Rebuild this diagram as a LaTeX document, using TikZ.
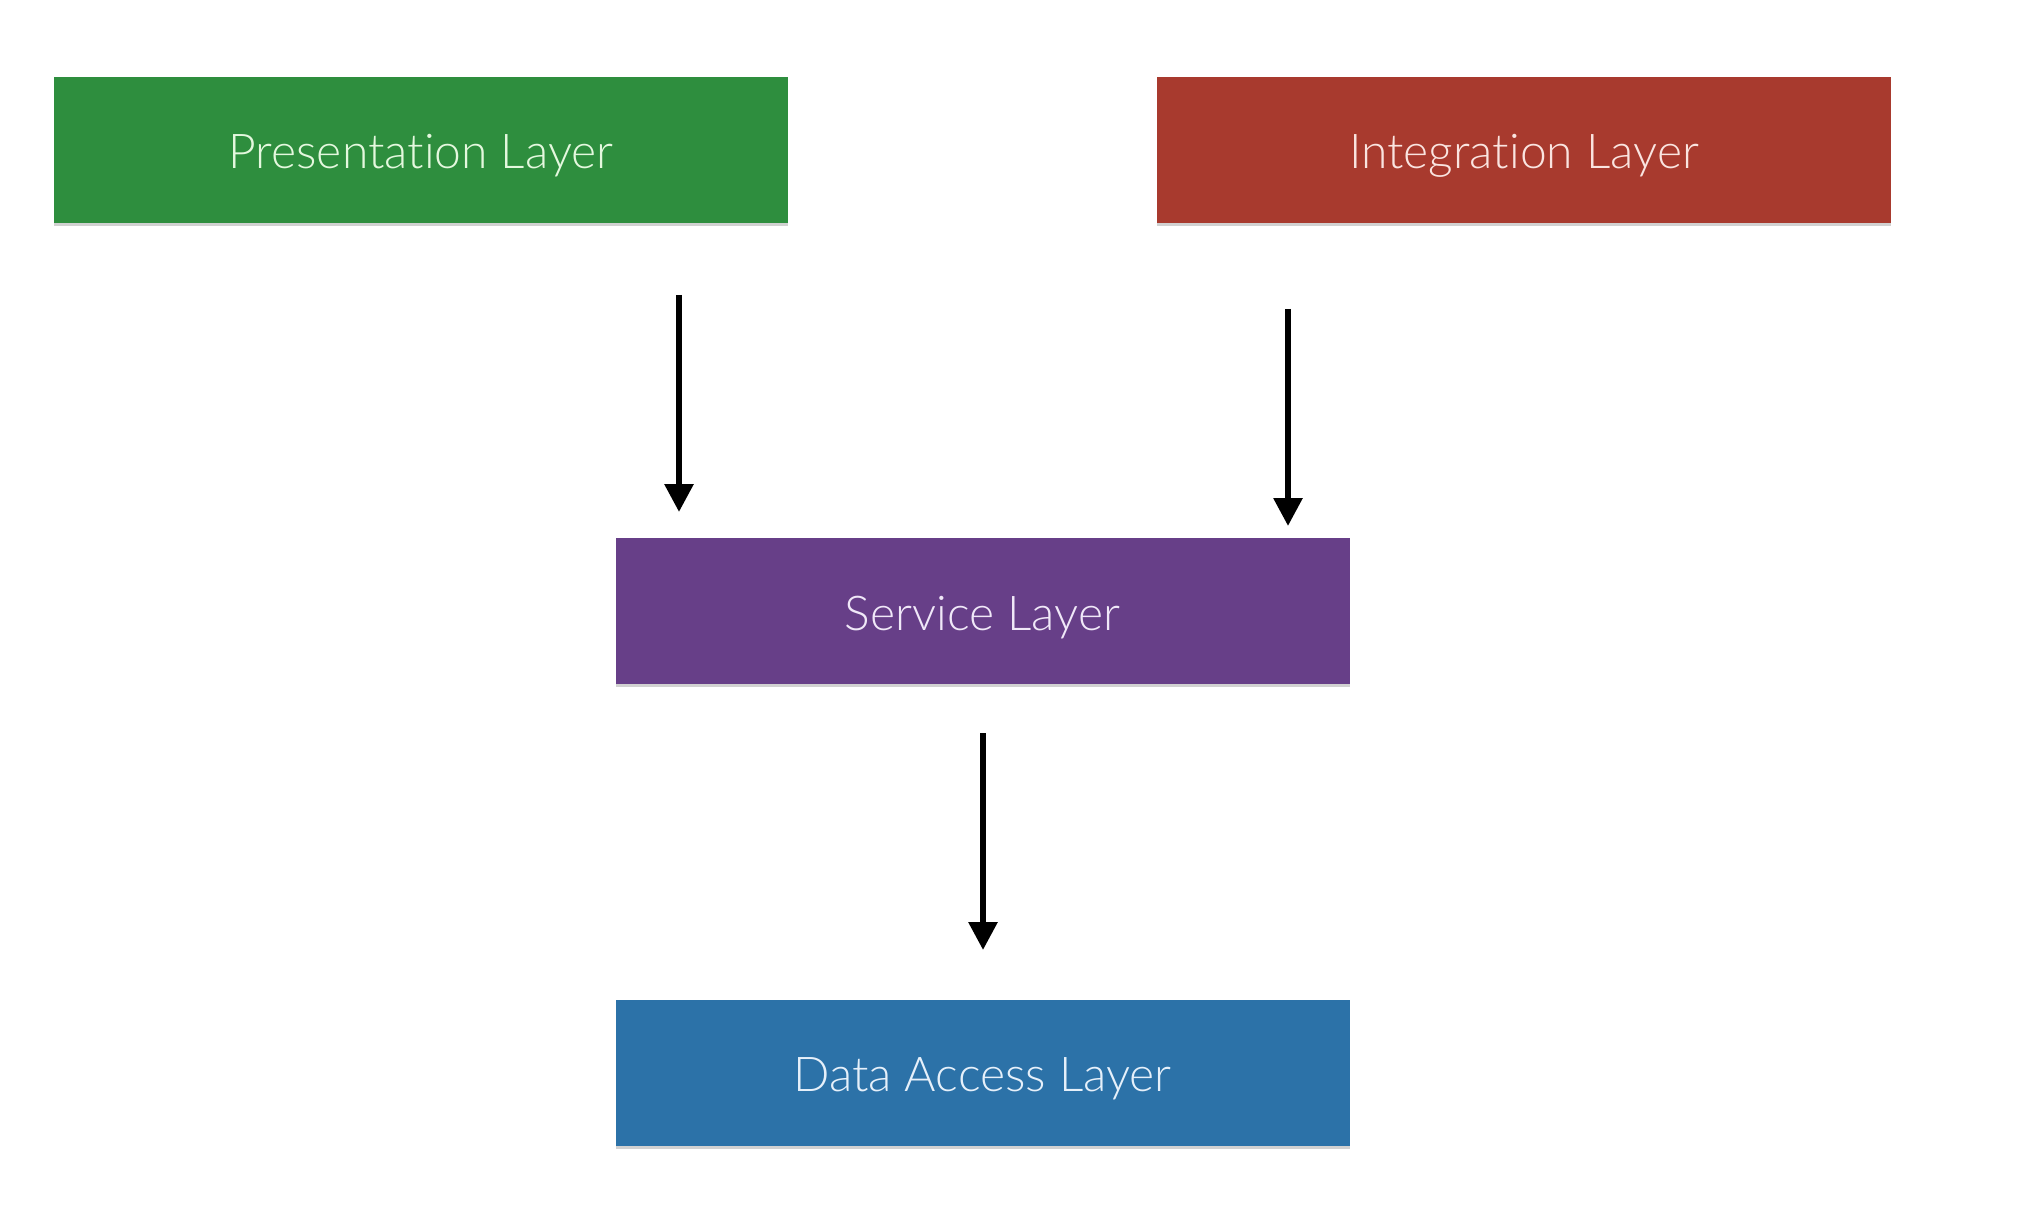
\documentclass[tikz,border=0pt]{standalone}
\usepackage{fontspec}
\newfontfamily\lab{Lato Light}[Ligatures=NoCommon]
\usetikzlibrary{arrows.meta,shadows}
\definecolor{cgreen}{RGB}{46,142,62}
\definecolor{cred}{RGB}{168,58,46}
\definecolor{cpurple}{RGB}{103,63,136}
\definecolor{cblue}{RGB}{44,114,168}
\definecolor{tgreen}{RGB}{228,248,222}
\definecolor{tred}{RGB}{250,228,224}
\definecolor{tpurple}{RGB}{240,232,248}
\definecolor{tblue}{RGB}{230,240,250}
\tikzset{
  layer/.style={rectangle, minimum width=734pt, minimum height=146pt, inner sep=0pt,
    text height=38pt, text depth=0pt,
    font=\lab\fontsize{48}{52}\selectfont,
    drop shadow={shadow xshift=0pt, shadow yshift=-3pt, opacity=0.18, fill=black}},
  flow/.style={line width=6pt, -{Triangle[width=28pt,length=28pt]}, black}
}
\begin{document}
\begin{tikzpicture}[x=1pt,y=-1pt]
\useasboundingbox[fill=white] (0,0) rectangle (2020,1230);
\node[layer, fill=cgreen, text=tgreen] (pres) at (421,150) {Presentation Layer};
\node[layer, fill=cred, text=tred] (integ) at (1524,150) {Integration Layer};
\node[layer, fill=cpurple, text=tpurple] (serv) at (982.5,611) {Service Layer};
\node[layer, fill=cblue, text=tblue] (data) at (982.5,1072.5) {Data Access Layer};
\coordinate (a1s) at (679,295);
\coordinate (a1e) at (679,512);
\coordinate (a2s) at (1288,309);
\coordinate (a2e) at (1288,526);
\coordinate (a3s) at (983,733);
\coordinate (a3e) at (983,950);
\draw[flow] (a1s) -- (a1e);
\draw[flow] (a2s) -- (a2e);
\draw[flow] (a3s) -- (a3e);
\end{tikzpicture}
\end{document}
